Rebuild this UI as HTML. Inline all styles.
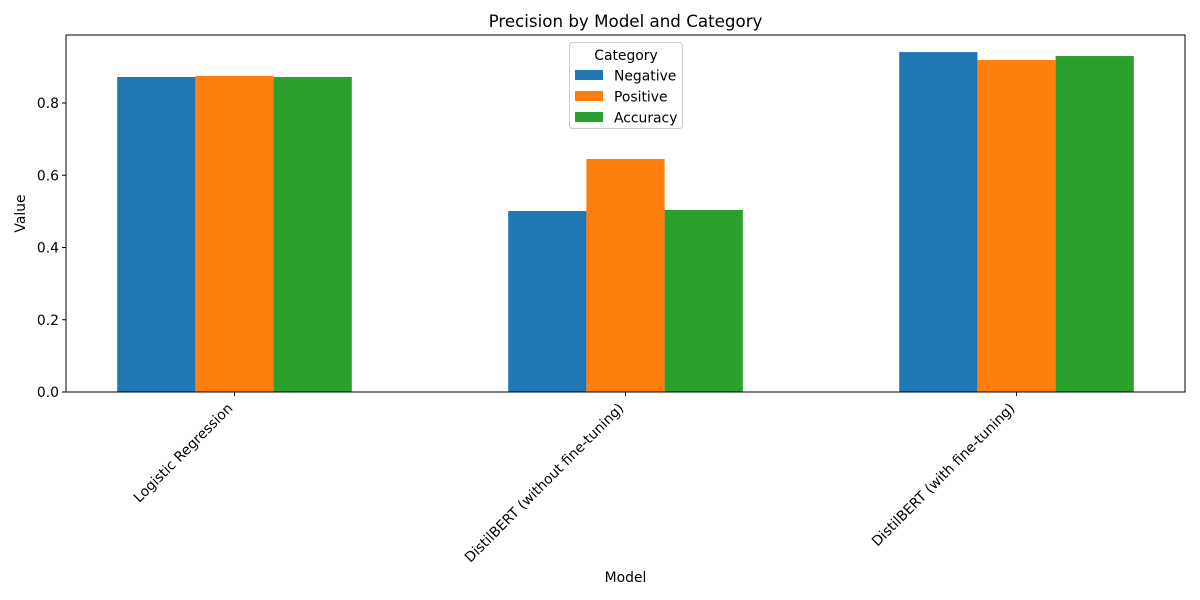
<!DOCTYPE html>
<html><head><meta charset="utf-8"><style>
body{margin:0;background:#fff}
svg{display:block;font-family:"DejaVu Sans","Liberation Sans",sans-serif}
</style></head><body>
<svg id="c" width="1200" height="600" viewBox="0 0 1200 600"></svg>
<script>
const models=["Logistic Regression","DistilBERT (without fine-tuning)","DistilBERT (with fine-tuning)"];
const seriesNames=["Negative","Positive","Accuracy"];
const negative=[0.872,0.501,0.941];
const positive=[0.875,0.645,0.919];
const accuracy=[0.872,0.504,0.930];
const yTicks=[0,0.2,0.4,0.6,0.8];
const yTickLabels=["0.0","0.2","0.4","0.6","0.8"];
const colors=["#1f77b4","#ff7f0e","#2ca02c"];
const series=[negative,positive,accuracy];
const L=66,R=1185,T=35,B=392;
const y=v=>B-v*361.25;
const x=i=>234.5+i*391;
const bw=78.2;
const FS=13.9;
const svg=document.getElementById('c');
const NS="http://www.w3.org/2000/svg";
function mk(tag,attrs,parent){const e=document.createElementNS(NS,tag);for(const k in attrs)e.setAttribute(k,attrs[k]);(parent||svg).appendChild(e);return e;}
let t=mk('text',{x:625.5,y:27,'text-anchor':'middle','font-size':16.7,fill:'#000'});t.textContent="Precision by Model and Category";


series.forEach((s,si)=>{s.forEach((v,i)=>{
const r=mk('rect',{x:x(i)+(si-1)*bw-bw/2,y:y(v),width:bw,height:B-y(v),fill:colors[si]});


});});
const ax=mk('rect',{x:L,y:T,width:R-L,height:B-T,fill:'none',stroke:'#000','stroke-width':1});


yTicks.forEach((v,i)=>{
mk('line',{x1:L-4,x2:L,y1:y(v),y2:y(v),stroke:'#000'});
const tl=mk('text',{x:L-7,y:y(v)+5,'text-anchor':'end','font-size':FS});tl.textContent=yTickLabels[i];


});
models.forEach((m,i)=>{
mk('line',{x1:x(i),x2:x(i),y1:B,y2:B+4,stroke:'#000'});
const ax0=x(i)-1, ay0=B+17;
const tl=mk('text',{x:ax0,y:ay0,'text-anchor':'end','font-size':FS,transform:`rotate(-45 ${ax0} ${ay0})`});tl.textContent=m;


});
let yl=mk('text',{x:25,y:213.5,'text-anchor':'middle','font-size':FS,transform:'rotate(-90 25 213.5)'});yl.textContent="Value";


let xl=mk('text',{x:625.5,y:582,'text-anchor':'middle','font-size':FS});xl.textContent="Model";


const lg=mk('g',{});


mk('rect',{x:569.5,y:42.5,width:113,height:86,rx:3,fill:'#fff','fill-opacity':0.8,stroke:'#ccc'},lg);
let lt=mk('text',{x:626,y:60,'text-anchor':'middle','font-size':FS},lg);lt.textContent="Category";
seriesNames.forEach((n,i)=>{
mk('rect',{x:575,y:70+i*21,width:28,height:10,fill:colors[i]},lg);
const e=mk('text',{x:614,y:80.5+i*21,'font-size':FS},lg);e.textContent=n;


});
</script>
</body></html>
